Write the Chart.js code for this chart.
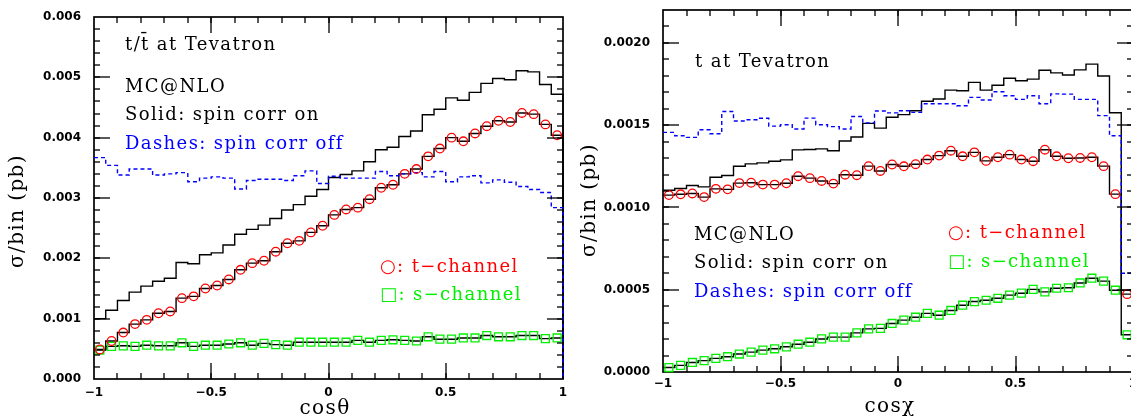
<!DOCTYPE html>
<html>
<head>
<meta charset="utf-8">
<script src="https://cdn.jsdelivr.net/npm/chart.js@4.4.1/dist/chart.umd.min.js"></script>
<style>
  html, body { margin: 0; padding: 0; background: #fff; }
  body { width: 1131px; height: 416px; overflow: hidden; position: relative; }
  #left { position: absolute; left: 0; top: 0; }
  #right { position: absolute; left: 580px; top: 0; }
</style>
</head>
<body>
<canvas id="left" width="580" height="416"></canvas>
<canvas id="right" width="600" height="416"></canvas>
<script>
// 40 bins in cos(angle), from -1 to 1
const nBins = 40;
const binEdges = Array.from({ length: nBins + 1 }, (_, i) => -1 + (2 * i) / nBins);

// Tick labels
const xTicks = [-1, -0.5, 0, 0.5, 1];
const yTicksLeft = [0, 0.001, 0.002, 0.003, 0.004, 0.005, 0.006];
const yTicksRight = [0, 0.0005, 0.001, 0.0015, 0.002];

// Left panel: t/tbar at Tevatron, sigma/bin (pb) vs cos(theta)
const spinOnLeft = [1.00e-3, 1.14e-3, 1.30e-3, 1.44e-3, 1.54e-3, 1.62e-3, 1.67e-3, 1.93e-3, 1.91e-3, 2.06e-3,
  2.09e-3, 2.22e-3, 2.40e-3, 2.48e-3, 2.55e-3, 2.66e-3, 2.80e-3, 2.89e-3, 3.03e-3, 3.14e-3,
  3.34e-3, 3.39e-3, 3.45e-3, 3.60e-3, 3.80e-3, 3.84e-3, 4.02e-3, 4.11e-3, 4.38e-3, 4.47e-3,
  4.66e-3, 4.62e-3, 4.75e-3, 4.90e-3, 4.98e-3, 4.96e-3, 5.11e-3, 5.09e-3, 4.88e-3, 4.72e-3];
const spinOffLeft = [3.67e-3, 3.54e-3, 3.38e-3, 3.48e-3, 3.48e-3, 3.38e-3, 3.40e-3, 3.42e-3, 3.27e-3, 3.33e-3,
  3.35e-3, 3.33e-3, 3.15e-3, 3.29e-3, 3.31e-3, 3.31e-3, 3.29e-3, 3.37e-3, 3.45e-3, 3.24e-3,
  3.36e-3, 3.33e-3, 3.33e-3, 3.33e-3, 3.44e-3, 3.37e-3, 3.40e-3, 3.42e-3, 3.35e-3, 3.44e-3,
  3.27e-3, 3.35e-3, 3.37e-3, 3.25e-3, 3.30e-3, 3.26e-3, 3.19e-3, 3.14e-3, 3.09e-3, 2.84e-3];
const tChanLeft = [0.49e-3, 0.63e-3, 0.77e-3, 0.91e-3, 0.98e-3, 1.09e-3, 1.12e-3, 1.34e-3, 1.37e-3, 1.50e-3,
  1.55e-3, 1.65e-3, 1.81e-3, 1.92e-3, 1.96e-3, 2.11e-3, 2.25e-3, 2.29e-3, 2.43e-3, 2.54e-3,
  2.72e-3, 2.81e-3, 2.84e-3, 2.98e-3, 3.17e-3, 3.22e-3, 3.40e-3, 3.48e-3, 3.69e-3, 3.82e-3,
  4.00e-3, 3.94e-3, 4.07e-3, 4.19e-3, 4.28e-3, 4.26e-3, 4.41e-3, 4.39e-3, 4.22e-3, 4.04e-3];
const sChanLeft = [0.48e-3, 0.54e-3, 0.55e-3, 0.54e-3, 0.56e-3, 0.55e-3, 0.55e-3, 0.60e-3, 0.54e-3, 0.56e-3,
  0.56e-3, 0.58e-3, 0.60e-3, 0.56e-3, 0.59e-3, 0.57e-3, 0.56e-3, 0.61e-3, 0.61e-3, 0.61e-3,
  0.61e-3, 0.61e-3, 0.64e-3, 0.61e-3, 0.64e-3, 0.65e-3, 0.64e-3, 0.63e-3, 0.70e-3, 0.66e-3,
  0.66e-3, 0.68e-3, 0.68e-3, 0.72e-3, 0.70e-3, 0.70e-3, 0.72e-3, 0.72e-3, 0.67e-3, 0.68e-3];

// Right panel: t at Tevatron, sigma/bin (pb) vs cos(chi)
const spinOnRight = [11.05e-4, 11.15e-4, 11.33e-4, 11.25e-4, 11.84e-4, 11.94e-4, 12.50e-4, 12.65e-4, 12.71e-4, 12.81e-4,
  12.89e-4, 13.50e-4, 13.52e-4, 13.56e-4, 13.45e-4, 14.04e-4, 14.28e-4, 15.11e-4, 14.82e-4, 15.48e-4,
  15.64e-4, 15.88e-4, 16.45e-4, 16.59e-4, 17.13e-4, 17.09e-4, 17.60e-4, 17.13e-4, 17.43e-4, 17.85e-4,
  17.70e-4, 17.80e-4, 18.34e-4, 18.18e-4, 18.05e-4, 18.36e-4, 18.71e-4, 17.99e-4, 15.76e-4, 4.97e-4];
const spinOffRight = [14.56e-4, 14.36e-4, 14.26e-4, 14.72e-4, 14.48e-4, 15.83e-4, 15.25e-4, 15.33e-4, 15.42e-4, 14.94e-4,
  15.03e-4, 14.77e-4, 15.43e-4, 15.03e-4, 14.91e-4, 14.77e-4, 15.53e-4, 15.14e-4, 15.86e-4, 15.75e-4,
  15.88e-4, 15.78e-4, 16.30e-4, 16.30e-4, 16.30e-4, 16.18e-4, 16.69e-4, 16.53e-4, 17.03e-4, 16.79e-4,
  16.57e-4, 16.79e-4, 16.30e-4, 16.90e-4, 16.89e-4, 16.57e-4, 16.57e-4, 15.58e-4, 14.36e-4, 6.00e-4];
const tChanRight = [10.75e-4, 10.80e-4, 10.85e-4, 10.63e-4, 11.13e-4, 11.10e-4, 11.48e-4, 11.50e-4, 11.39e-4, 11.39e-4,
  11.47e-4, 11.90e-4, 11.78e-4, 11.61e-4, 11.45e-4, 11.99e-4, 11.96e-4, 12.51e-4, 12.22e-4, 12.61e-4,
  12.50e-4, 12.63e-4, 12.91e-4, 13.15e-4, 13.45e-4, 13.11e-4, 13.35e-4, 12.83e-4, 13.05e-4, 13.21e-4,
  12.91e-4, 12.81e-4, 13.51e-4, 13.11e-4, 12.99e-4, 13.01e-4, 13.05e-4, 12.51e-4, 10.81e-4, 4.73e-4];
const sChanRight = [0.27e-4, 0.40e-4, 0.58e-4, 0.69e-4, 0.83e-4, 0.93e-4, 1.09e-4, 1.21e-4, 1.33e-4, 1.41e-4,
  1.53e-4, 1.69e-4, 1.81e-4, 2.01e-4, 2.12e-4, 2.12e-4, 2.38e-4, 2.62e-4, 2.65e-4, 2.95e-4,
  3.15e-4, 3.33e-4, 3.56e-4, 3.45e-4, 3.74e-4, 4.06e-4, 4.28e-4, 4.36e-4, 4.48e-4, 4.67e-4,
  4.79e-4, 5.02e-4, 4.87e-4, 5.09e-4, 5.12e-4, 5.41e-4, 5.70e-4, 5.52e-4, 4.97e-4, 2.26e-4];

const RED = "#ff0000";
const GREEN = "#00f000";
const BLUE = "#0000ff";
const SERIF = '"DejaVu Serif", serif';

// histogram outline: point at each left bin edge, stepped horizontally to the next edge
function histPoints(vals, closeRight) {
  const pts = vals.map((v, i) => ({ x: binEdges[i], y: v }));
  pts.push({ x: binEdges[nBins], y: vals[nBins - 1] });
  if (closeRight) pts.push({ x: binEdges[nBins], y: 0 });
  return pts;
}

// markers sit at bin centres
function centerPoints(vals) {
  return vals.map((v, i) => ({ x: (binEdges[i] + binEdges[i + 1]) / 2, y: v }));
}

function histDataset(vals, color, dash, order, closeRight) {
  return {
    data: histPoints(vals, closeRight),
    borderColor: color,
    borderWidth: 1.4,
    borderDash: dash,
    stepped: "before",
    pointRadius: 0,
    fill: false,
    clip: 4,
    order: order,
  };
}

function markerDataset(vals, color, style, radius, order) {
  return {
    data: centerPoints(vals),
    showLine: false,
    pointStyle: style,
    pointRadius: radius,
    pointBorderColor: color,
    pointBackgroundColor: "rgba(0,0,0,0)",
    pointBorderWidth: 1.3,
    clip: 8,
    order: order,
  };
}

// values between lo and hi every step, for the unlabelled minor ticks
function tickRange(lo, hi, step) {
  const out = [];
  const n = Math.round((hi - lo) / step);
  for (let i = 1; i < n; i++) out.push(lo + i * step);
  return out;
}

// Frame with inward ticks on all four sides, plus the text on the plot
function framePlugin(f) {
  return {
    id: "frame",
    beforeDatasetsDraw(chart) {
      const ctx = chart.ctx;
      const a = chart.chartArea;
      ctx.save();
      ctx.lineWidth = 1.7;
      ctx.strokeStyle = "#000";
      ctx.strokeRect(a.left, a.top, a.right - a.left, a.bottom - a.top);
      ctx.restore();
    },
    afterDatasetsDraw(chart) {
      const ctx = chart.ctx;
      const a = chart.chartArea;
      const xs = chart.scales.x;
      const ys = chart.scales.y;
      ctx.save();
      ctx.fillStyle = "#000";
      const xMark = (v, len) => {
        const px = Math.round(xs.getPixelForValue(v));
        ctx.fillRect(px - 0.65, a.bottom - len, 1.3, len);
        ctx.fillRect(px - 0.65, a.top, 1.3, len);
      };
      const yMark = (v, len) => {
        const py = Math.round(ys.getPixelForValue(v));
        ctx.fillRect(a.left, py - 0.65, len, 1.3);
        ctx.fillRect(a.right - len, py - 0.65, len, 1.3);
      };
      f.xMinorTicks.forEach((v) => xMark(v, 6));
      f.xMajorTicks.forEach((v) => xMark(v, 16));
      f.yMinorTicks.forEach((v) => yMark(v, 6));
      f.yMajorTicks.forEach((v) => yMark(v, 16));
      ctx.restore();
    },
    afterDraw(chart) {
      const ctx = chart.ctx;
      ctx.save();
      ctx.letterSpacing = "1.4px";
      ctx.textBaseline = "alphabetic";
      ctx.textAlign = "left";
      ctx.font = "18px " + SERIF;
      f.notes.forEach((n) => {
        ctx.fillStyle = n.color || "#000";
        ctx.fillText(n.text, n.x, n.y);
      });
      ctx.fillStyle = "#000";
      ctx.font = "20px " + SERIF;
      ctx.textAlign = "center";
      ctx.fillText(f.xTitle.text, f.xTitle.x, f.xTitle.y);
      ctx.translate(f.yTitle.x, f.yTitle.y);
      ctx.rotate(-Math.PI / 2);
      ctx.textBaseline = "middle";
      ctx.fillText(f.yTitle.text, 0, 0);
      ctx.restore();
    },
  };
}

const tickFont = { family: '"DejaVu Sans", sans-serif', size: 12, weight: "bold" };

function makeChart(id, cfg) {
  return new Chart(document.getElementById(id), {
    type: "line",
    data: {
      datasets: [
        markerDataset(cfg.tChan, RED, "circle", 4.3, 1),
        markerDataset(cfg.sChan, GREEN, "rect", 5.6, 2),
        histDataset(cfg.spinOff, BLUE, [4, 3], 3, true),
        histDataset(cfg.spinOn, "#000", [], 4, true),
        histDataset(cfg.tChan, "#000", [], 5, true),
        histDataset(cfg.sChan, "#000", [], 6, true),
      ],
    },
    options: {
      responsive: false,
      animation: false,
      devicePixelRatio: 1,
      layout: { padding: cfg.padding },
      plugins: {
        legend: { display: false },
        tooltip: { enabled: false },
      },
      scales: {
        x: {
          type: "linear",
          min: -1,
          max: 1,
          grid: { display: false, drawTicks: false },
          border: { display: false },
          afterBuildTicks: (s) => { s.ticks = xTicks.map((v) => ({ value: v })); },
          afterFit: (s) => {
            s.height = cfg.xAxisHeight;
            s.paddingLeft = 0;
            s.paddingRight = 0;
          },
          ticks: {
            color: "#000",
            font: tickFont,
            padding: cfg.xPad,
            maxRotation: 0,
            callback: (v) => String(v).replace("-", "\u2212"),
          },
        },
        y: {
          type: "linear",
          min: 0,
          max: cfg.yMax,
          grid: { display: false, drawTicks: false },
          border: { display: false },
          afterBuildTicks: (s) => { s.ticks = cfg.yTicks.map((v) => ({ value: v })); },
          afterFit: (s) => {
            s.width = cfg.yAxisWidth;
            s.paddingTop = 0;
            s.paddingBottom = 0;
          },
          ticks: {
            color: "#000",
            font: tickFont,
            padding: 13,
            callback: (v) => v.toFixed(cfg.yDigits),
          },
        },
      },
    },
    plugins: [framePlugin(cfg.frame)],
  });
}

makeChart("left", {
  spinOn: spinOnLeft, spinOff: spinOffLeft, tChan: tChanLeft, sChan: sChanLeft,
  yMax: 0.006, yTicks: yTicksLeft, yDigits: 3,
  padding: { left: 0, top: 17, right: 17, bottom: 0 },
  yAxisWidth: 94, xAxisHeight: 37, xPad: 7,
  frame: {
    xMajorTicks: [-0.5, 0, 0.5],
    xMinorTicks: tickRange(-1, 1, 0.1),
    yMajorTicks: yTicksLeft.slice(1, -1),
    yMinorTicks: tickRange(0, 0.006, 0.0002),
    notes: [
      { text: "t/t\u0304 at Tevatron", x: 125, y: 50 },
      { text: "MC@NLO", x: 125, y: 92 },
      { text: "Solid: spin corr on", x: 125, y: 120 },
      { text: "Dashes: spin corr off", x: 125, y: 149, color: BLUE },
      { text: "\u25CB: t\u2212channel", x: 380, y: 272, color: RED },
      { text: "\u25A1: s\u2212channel", x: 380, y: 300, color: GREEN },
    ],
    xTitle: { text: "cos\u03B8", x: 325, y: 414 },
    yTitle: { text: "\u03C3/bin (pb)", x: 18, y: 211 },
  },
});

makeChart("right", {
  spinOn: spinOnRight, spinOff: spinOffRight, tChan: tChanRight, sChan: sChanRight,
  yMax: 0.0022, yTicks: yTicksRight, yDigits: 4,
  padding: { left: 0, top: 10, right: 47, bottom: 0 },
  yAxisWidth: 83, xAxisHeight: 44, xPad: 5,
  frame: {
    xMajorTicks: [-0.5, 0, 0.5],
    xMinorTicks: tickRange(-1, 1, 0.1),
    yMajorTicks: yTicksRight.slice(1),
    yMinorTicks: tickRange(0, 0.0022, 0.0001),
    notes: [
      { text: "t at Tevatron", x: 115, y: 67 },
      { text: "MC@NLO", x: 114, y: 240 },
      { text: "Solid: spin corr on", x: 114, y: 268 },
      { text: "Dashes: spin corr off", x: 114, y: 297, color: BLUE },
      { text: "\u25CB: t\u2212channel", x: 368, y: 238, color: RED },
      { text: "\u25A1: s\u2212channel", x: 368, y: 267, color: GREEN },
    ],
    xTitle: { text: "cos\u03C7", x: 310, y: 412 },
    yTitle: { text: "\u03C3/bin (pb)", x: 10, y: 200 },
  },
});
</script>
</body>
</html>
